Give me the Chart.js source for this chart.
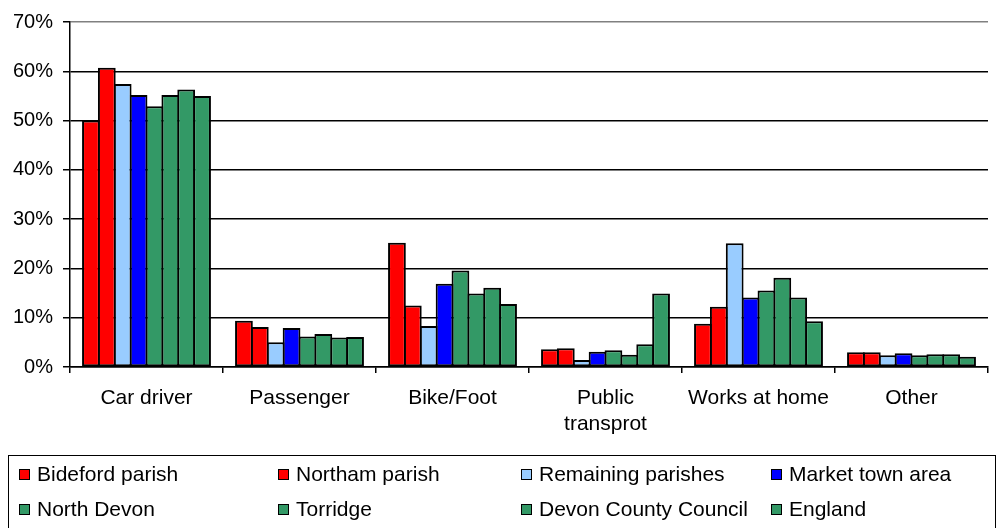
<!DOCTYPE html>
<html>
<head>
<meta charset="utf-8">
<script src="https://cdn.jsdelivr.net/npm/chart.js@4/dist/chart.umd.min.js"></script>
<style>
    html, body { margin: 0; padding: 0; background: #fff; }
    #wrap { position: relative; width: 999px; height: 528px; }
    #legend {
        position: absolute; left: 8px; top: 455px; width: 988px; height: 80px;
        border: 1.5px solid #000; box-sizing: border-box;
        font-family: "Liberation Sans", Arial, sans-serif; font-size: 21px; color: #000;
    }
    #legend .item { position: absolute; white-space: nowrap; line-height: 20px; }
    #legend .box {
        display: inline-block; width: 9px; height: 9px; border: 1.5px solid #000;
        margin-right: 7px; vertical-align: 1px;
    }
</style>
</head>
<body>
<div id="wrap">
    <canvas id="chart"></canvas>
    <div id="legend"></div>
</div>
<script>
    const categories = ["Car driver", "Passenger", "Bike/Foot", ["Public", "transprot"], "Works at home", "Other"];
    const yTicks = [0, 10, 20, 30, 40, 50, 60, 70];

    const bidefordParish    = [50.0, 9.4, 25.2, 3.6, 8.8, 3.0];
    const northamParish     = [60.7, 8.1, 12.5, 3.8, 12.2, 3.0];
    const remainingParishes = [57.4, 5.0, 8.3, 1.4, 25.1, 2.4];
    const marketTownArea    = [55.2, 7.9, 16.9, 3.1, 14.1, 2.8];
    const northDevon        = [52.9, 6.2, 19.6, 3.4, 15.5, 2.4];
    const torridge          = [55.2, 6.7, 14.9, 2.5, 18.1, 2.6];
    const devonCounty       = [56.3, 6.0, 16.1, 4.6, 14.1, 2.6];
    const england           = [55.0, 6.1, 12.8, 14.9, 9.3, 2.1];

    const seriesNames = ["Bideford parish", "Northam parish", "Remaining parishes", "Market town area",
        "North Devon", "Torridge", "Devon County Council", "England"];
    const seriesData = [bidefordParish, northamParish, remainingParishes, marketTownArea,
        northDevon, torridge, devonCounty, england];
    const seriesColors = ["#FF0000", "#FF0000", "#99CCFF", "#0000FF",
        "#339966", "#339966", "#339966", "#339966"];

    const fontFamily = "'Liberation Sans', Arial, sans-serif";

    const datasets = seriesNames.map((name, i) => ({
        label: name,
        data: seriesData[i],
        backgroundColor: seriesColors[i],
        borderColor: "#000",
        borderWidth: 2,
        borderSkipped: false,
        categoryPercentage: 0.83,
        barPercentage: 1.12
    }));

    const chart = new Chart(document.getElementById("chart").getContext("2d"), {
        type: "bar",
        data: {labels: categories, datasets: datasets},
        options: {
            responsive: true,
            maintainAspectRatio: false,
            animation: false,
            layout: {padding: {left: 0, right: 11, top: 20, bottom: 0}},
            plugins: {legend: {display: false}, tooltip: {enabled: false}},
            scales: {
                x: {
                    grid: {
                        offset: true,
                        drawOnChartArea: true,
                        color: ctx => ctx.index === categories.length ? "#808080" : "rgba(0,0,0,0)",
                        tickColor: "#000",
                        tickLength: 6,
                        lineWidth: 1.5
                    },
                    border: {color: "#000", width: 1.5},
                    ticks: {color: "#000", font: {family: fontFamily, size: 21}, padding: 13, maxRotation: 0, autoSkip: false},
                    afterFit: scale => { scale.height = 161; }
                },
                y: {
                    min: 0,
                    max: 70,
                    afterBuildTicks: scale => { scale.ticks = yTicks.map(v => ({value: v})); },
                    grid: {
                        color: ctx => ctx.tick && ctx.tick.value === 70 ? "#808080" : "#000",
                        tickColor: "#000",
                        tickLength: 7,
                        lineWidth: 1.5
                    },
                    border: {color: "#000", width: 1.5},
                    ticks: {color: "#000", font: {family: fontFamily, size: 20}, padding: 10, callback: v => v + "%"},
                    afterFit: scale => { scale.width = 70; }
                }
            }
        }
    });

    // legend in four fixed columns, like the original
    const legendCols = [10, 269, 512, 762];
    const legendRows = [8, 43];
    const $legend = document.getElementById("legend");
    chart.data.datasets.forEach((ds, i) => {
        const item = document.createElement("div");
        item.className = "item";
        item.style.left = legendCols[i % 4] + "px";
        item.style.top = legendRows[Math.floor(i / 4)] + "px";
        item.innerHTML = `<span class="box" style="background:${ds.backgroundColor}"></span>${ds.label}`;
        $legend.appendChild(item);
    });
</script>
</body>
</html>
